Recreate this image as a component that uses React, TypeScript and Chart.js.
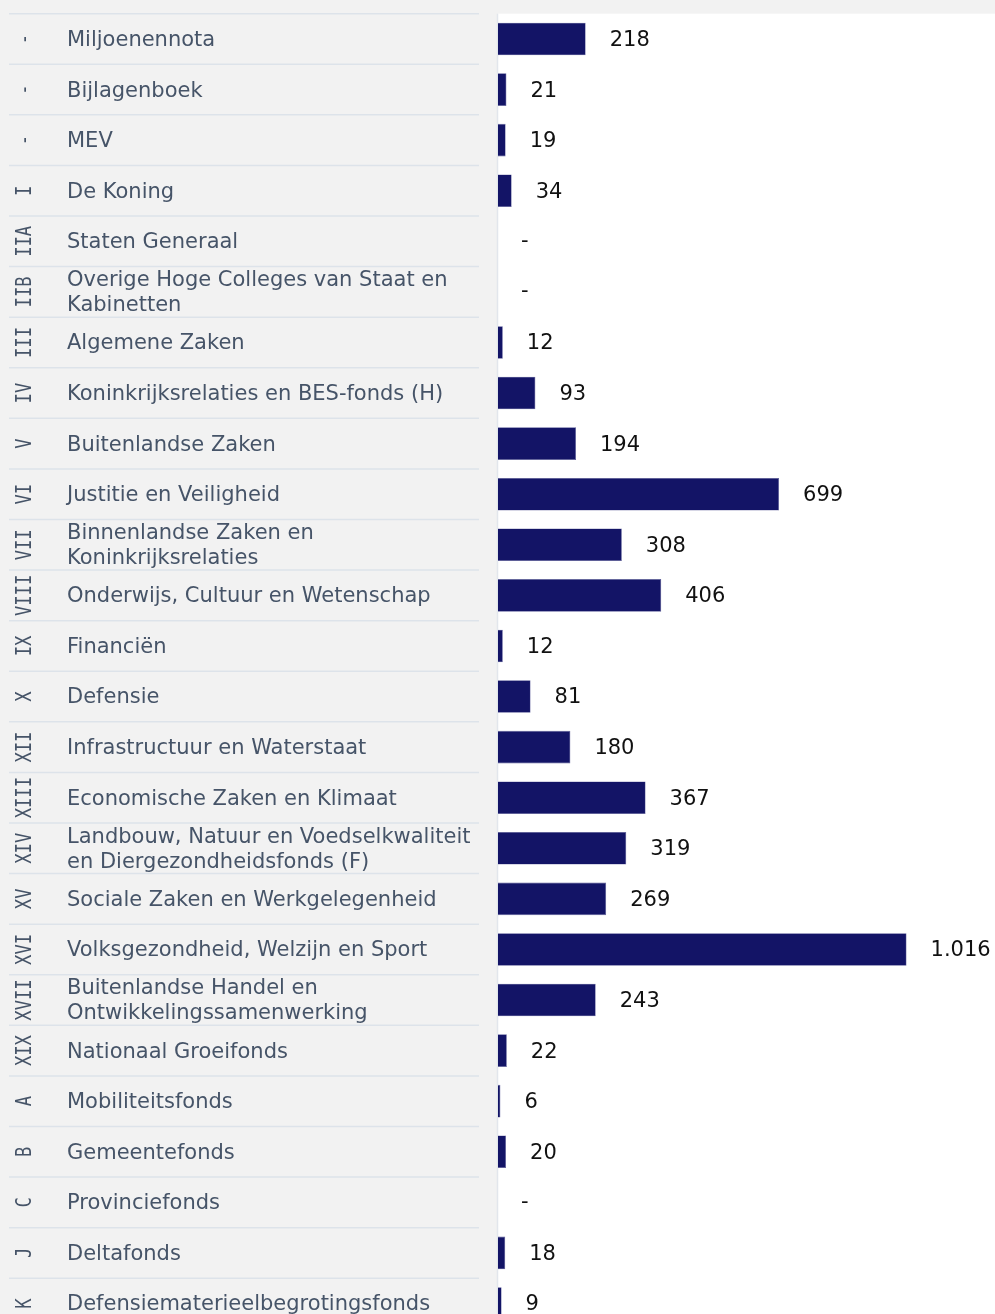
import React, { useEffect, useRef } from "react";
import { Chart, registerables } from "chart.js";

Chart.register(...registerables);

const codes = ["-", "-", "-", "I", "IIA", "IIB", "III", "IV", "V", "VI", "VII", "VIII", "IX", "X", "XII", "XIII", "XIV", "XV", "XVI", "XVII", "XIX", "A", "B", "C", "J", "K"];

const names = [
  ["Miljoenennota"],
  ["Bijlagenboek"],
  ["MEV"],
  ["De Koning"],
  ["Staten Generaal"],
  ["Overige Hoge Colleges van Staat en", "Kabinetten"],
  ["Algemene Zaken"],
  ["Koninkrijksrelaties en BES-fonds (H)"],
  ["Buitenlandse Zaken"],
  ["Justitie en Veiligheid"],
  ["Binnenlandse Zaken en", "Koninkrijksrelaties"],
  ["Onderwijs, Cultuur en Wetenschap"],
  ["Financiën"],
  ["Defensie"],
  ["Infrastructuur en Waterstaat"],
  ["Economische Zaken en Klimaat"],
  ["Landbouw, Natuur en Voedselkwaliteit", "en Diergezondheidsfonds (F)"],
  ["Sociale Zaken en Werkgelegenheid"],
  ["Volksgezondheid, Welzijn en Sport"],
  ["Buitenlandse Handel en", "Ontwikkelingssamenwerking"],
  ["Nationaal Groeifonds"],
  ["Mobiliteitsfonds"],
  ["Gemeentefonds"],
  ["Provinciefonds"],
  ["Deltafonds"],
  ["Defensiematerieelbegrotingsfonds"],
];

const values: (number | null)[] = [218, 21, 19, 34, null, null, 12, 93, 194, 699, 308, 406, 12, 81, 180, 367, 319, 269, 1016, 243, 22, 6, 20, null, 18, 9];

const xMin = 0;
const xMax = 1236;

const fmt = (v: number) => v.toLocaleString("nl-NL");

const panelPlugin = {
  id: "panel",
  beforeDraw(chart: any) {
    const { ctx, chartArea, scales } = chart;
    const y = scales.y;
    ctx.save();
    ctx.fillStyle = "#f2f2f2";
    ctx.fillRect(0, 0, chart.width, chart.height);
    ctx.fillStyle = "#ffffff";
    ctx.fillRect(chartArea.left, chartArea.top, chartArea.right - chartArea.left, chartArea.bottom - chartArea.top);
    ctx.strokeStyle = "#e2e6ec";
    ctx.lineWidth = 1.5;
    ctx.beginPath();
    ctx.moveTo(chartArea.left - 0.5, chartArea.top);
    ctx.lineTo(chartArea.left - 0.5, chartArea.bottom);
    ctx.stroke();

    const n = codes.length;
    const rowH = n > 1 ? y.getPixelForValue(1) - y.getPixelForValue(0) : 50;
    ctx.strokeStyle = "#dde3ea";
    ctx.lineWidth = 1.5;
    for (let i = 0; i <= n; i++) {
      const yy = y.getPixelForValue(i) - rowH / 2;
      ctx.beginPath();
      ctx.moveTo(9, yy);
      ctx.lineTo(479, yy);
      ctx.stroke();
    }
    ctx.fillStyle = "#465468";
    for (let i = 0; i < n; i++) {
      const cy = y.getPixelForValue(i);
      ctx.save();
      ctx.translate(24, cy);
      ctx.rotate(-Math.PI / 2);
      ctx.scale(0.78, 1);
      ctx.font = "22px 'DejaVu Sans Mono'";
      ctx.textAlign = "center";
      ctx.textBaseline = "middle";
      ctx.fillText(codes[i], 0, 1);
      ctx.restore();
      ctx.font = "21px 'DejaVu Sans'";
      ctx.textAlign = "left";
      ctx.textBaseline = "middle";
      const lines = names[i];
      const lh = 25;
      const start = cy - ((lines.length - 1) * lh) / 2;
      lines.forEach((ln, k) => ctx.fillText(ln, 67, start + k * lh + 1.5));
    }
    ctx.restore();
  },
  afterDatasetsDraw(chart: any) {
    const { ctx, scales } = chart;
    const x = scales.x;
    const y = scales.y;
    ctx.save();
    ctx.fillStyle = "#111111";
    ctx.font = "21px 'DejaVu Sans'";
    ctx.textAlign = "left";
    ctx.textBaseline = "middle";
    values.forEach((v, i) => {
      const cy = y.getPixelForValue(i);
      if (v === null) {
        ctx.fillText("-", x.getPixelForValue(0) + 23, cy);
      } else {
        ctx.fillText(fmt(v), x.getPixelForValue(v) + 24, cy + 1.5);
      }
    });
    ctx.restore();
  },
};

export default function App() {
  const ref = useRef<HTMLCanvasElement | null>(null);
  useEffect(() => {
    if (!ref.current) return;
    const chart = new Chart(ref.current, {
      type: "bar",
      data: {
        labels: names.map((n) => n.join(" ")),
        datasets: [
          {
            data: values as any,
            backgroundColor: "#131466",
            borderColor: "#5b5c98",
            borderWidth: 0.6,
            barPercentage: 0.645,
            categoryPercentage: 1,
          },
        ],
      },
      options: {
        indexAxis: "y",
        animation: false,
        responsive: false,
        devicePixelRatio: 1,
        layout: { padding: { left: 498, right: 0, top: 13.7, bottom: 1.2 } },
        plugins: { legend: { display: false }, tooltip: { enabled: false } },
        scales: {
          x: { display: false, min: xMin, max: xMax },
          y: { display: false },
        },
      },
      plugins: [panelPlugin],
    });
    return () => chart.destroy();
  }, []);
  return (
    <div style={{ position: "fixed", left: 0, top: 0, width: 995, height: 1314, overflow: "hidden", background: "#f2f2f2" }}>
      <canvas ref={ref} width={995} height={1330} style={{ display: "block" }} />
    </div>
  );
}
